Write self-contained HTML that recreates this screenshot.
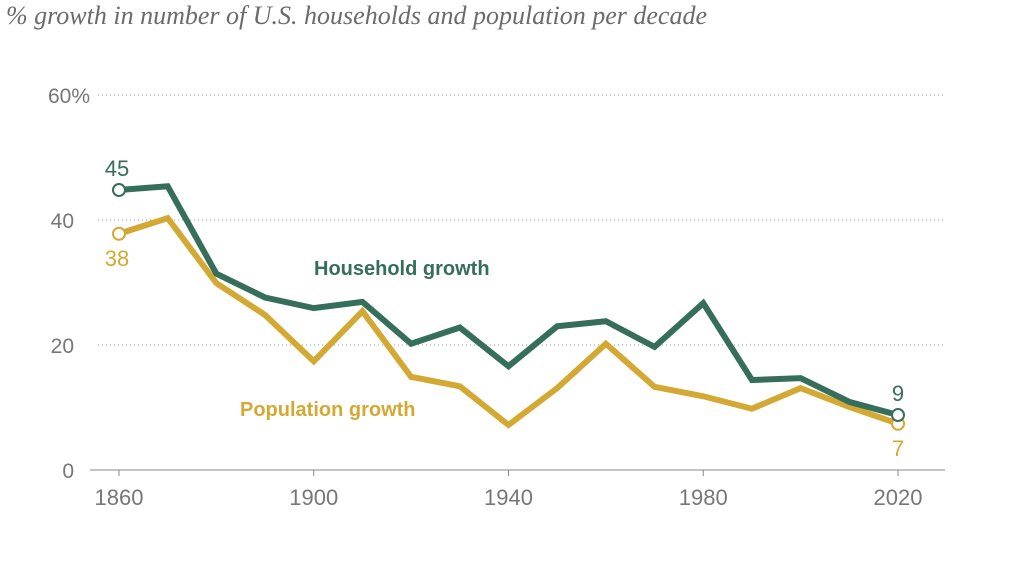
<!DOCTYPE html>
<html><head><meta charset="utf-8"><style>
body{margin:0;background:#fff;width:1024px;height:577px;overflow:hidden}
svg text{font-family:"Liberation Sans",sans-serif}
</style></head><body>
<svg id="chart" width="1024" height="577" xmlns="http://www.w3.org/2000/svg">
<text x="6" y="24" font-style="italic" font-size="26" fill="#6b6b6b" style="font-family:'Liberation Serif',serif">% growth in number of U.S. households and population per decade</text>
<g id="grid"></g><g id="axes"></g><g id="lines"></g>
</svg>
<script>
const years=[1860,1870,1880,1890,1900,1910,1920,1930,1940,1950,1960,1970,1980,1990,2000,2010,2020];
const household=[44.8,45.4,31.4,27.6,25.9,26.9,20.2,22.8,16.6,23,23.8,19.7,26.7,14.4,14.7,10.9,8.8];
const population=[37.8,40.3,29.9,24.8,17.4,25.4,14.9,13.4,7.2,13.1,20.2,13.3,11.8,9.8,13.1,10.1,7.4];
const yTicks=[0,20,40,60];
const xTicks=[1860,1900,1940,1980,2020];
const NS="http://www.w3.org/2000/svg";
const x=v=>119+(v-1860)*(898-119)/160;
const y=v=>470-v*6.25;
function mk(t,a,p,txt){const e=document.createElementNS(NS,t);for(const k in a)e.setAttribute(k,a[k]);if(txt!=null)e.textContent=txt;p.appendChild(e);return e;}
const G=document.getElementById('grid'),A=document.getElementById('axes'),L=document.getElementById('lines');
yTicks.forEach(t=>{
  if(t>0){const g=mk('line',{x1:98,x2:945,y1:y(t),y2:y(t),stroke:'#999','stroke-width':1,'stroke-dasharray':'1,3'},G);
  
  }
  const lb=mk('text',{x:t==60?90:74,y:y(t)+8,'text-anchor':'end','font-size':21,fill:'#777'},A,t==60?'60%':String(t));
  
  
});
const ax=mk('line',{x1:90,x2:945,y1:470,y2:470,stroke:'#888','stroke-width':1},A);


xTicks.forEach(t=>{
  const tk=mk('line',{x1:x(t),x2:x(t),y1:470,y2:476,stroke:'#888'},A);
  
  
  const lb=mk('text',{x:x(t),y:505,'text-anchor':'middle','font-size':22,fill:'#777'},A,String(t));
  
  
});
function series(vals,col,name){
  const p=mk('polyline',{points:vals.map((v,i)=>x(years[i])+','+y(v)).join(' '),fill:'none',stroke:col,'stroke-width':6,'stroke-linejoin':'miter'},L);
  
  
  [0,vals.length-1].forEach(i=>{
    const c=mk('circle',{cx:x(years[i]),cy:y(vals[i]),r:6,fill:'#fff',stroke:col,'stroke-width':2},L);
    
    
  });
}
series(population,'#d4a933','population');
series(household,'#356e5a','household');
function lab(tx,xx,yy,col,name,sz,bold,anchor){
  const t=mk('text',{x:xx,y:yy,fill:col,'font-size':sz,'font-weight':bold?'bold':'normal','text-anchor':anchor||'middle'},L,tx);
  
  
}
lab(String(Math.round(household[0])),x(1860)-2,y(household[0])-14,'#356e5a','household-start-label',22);
lab(String(Math.round(population[0])),x(1860)-2,y(population[0])+32,'#d4a933','population-start-label',22);
lab(String(Math.round(household[16])),x(2020),y(household[16])-14,'#356e5a','household-end-label',22);
lab(String(Math.round(population[16])),x(2020),y(population[16])+32,'#d4a933','population-end-label',22);
lab('Household growth',314,275,'#356e5a','household-series-label',20,true,'start');
lab('Population growth',240,416,'#d4a933','population-series-label',20,true,'start');
</script>
</body></html>
